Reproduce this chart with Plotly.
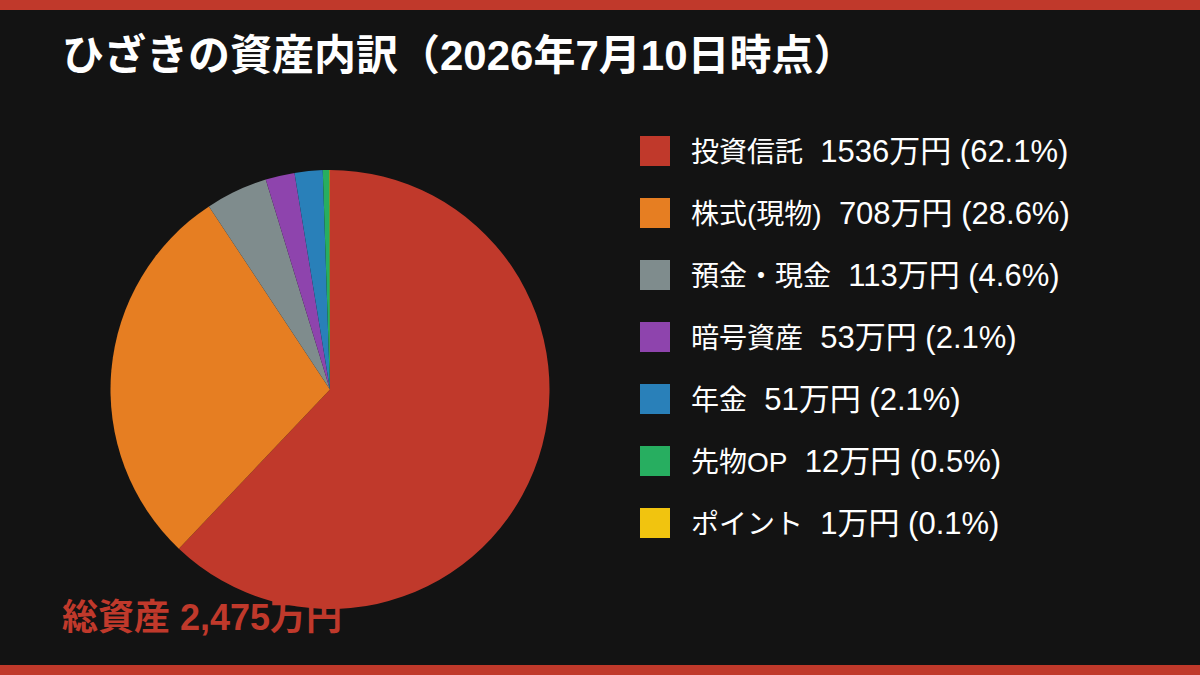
import plotly.graph_objects as go

categories = ["投資信託", "株式(現物)", "預金・現金", "暗号資産", "年金", "先物OP", "ポイント"]
values = [1536, 708, 113, 53, 51, 12, 1]
percents = [62.1, 28.6, 4.6, 2.1, 2.1, 0.5, 0.1]
colors = ["#c0392b", "#e67e22", "#7f8c8d", "#8e44ad", "#2980b9", "#27ae60", "#f1c40f"]
total_label = "総資産 2,475万円"
title_text = "ひざきの資産内訳（2026年7月10日時点）"

W, H = 1200, 675
BG = "#131313"
FONT = "Liberation Sans, Arial, Noto Sans CJK JP, sans-serif"

fig = go.Figure()
fig.add_trace(go.Pie(
    labels=categories,
    values=values,
    marker=dict(colors=colors, line=dict(width=0)),
    sort=False,
    direction="clockwise",
    rotation=0,
    textinfo="none",
    hoverinfo="label+value+percent",
    showlegend=False,
    domain=dict(x=[110 / W, 550 / W], y=[(H - 609) / H, (H - 170) / H]),
))

shapes = [
    dict(type="rect", xref="paper", yref="paper", x0=0, x1=1, y0=1 - 10 / H, y1=1,
         fillcolor="#c0392b", line=dict(width=0), layer="above"),
    dict(type="rect", xref="paper", yref="paper", x0=0, x1=1, y0=0, y1=10 / H,
         fillcolor="#c0392b", line=dict(width=0), layer="above"),
]
annotations = [
    dict(text="<b>" + title_text + "</b>", xref="paper", yref="paper",
         x=60 / W, y=1 - 56 / H, xanchor="left", yanchor="middle", showarrow=False,
         font=dict(family=FONT, size=42, color="#ffffff")),
    dict(text="<b>" + total_label + "</b>", xref="paper", yref="paper",
         x=60 / W, y=1 - 617 / H, xanchor="left", yanchor="middle", showarrow=False,
         font=dict(family=FONT, size=36, color="#c0392b")),
]

row0, step = 151, 62
for i, (cat, v, p, c) in enumerate(zip(categories, values, percents, colors)):
    yc = row0 + i * step
    shapes.append(dict(type="rect", xref="paper", yref="paper",
                       x0=640 / W, x1=670 / W, y0=1 - (yc + 15) / H, y1=1 - (yc - 15) / H,
                       fillcolor=c, line=dict(width=0)))
    txt = (f"<span style='font-size:28px'>{cat}</span>"
           f"<span style='font-size:31px'>  {v}万円 ({p}%)</span>")
    annotations.append(dict(text=txt, xref="paper", yref="paper",
                            x=689 / W, y=1 - yc / H, xanchor="left", yanchor="middle",
                            showarrow=False,
                            font=dict(family=FONT, size=28, color="#ffffff")))

fig.update_layout(
    width=W, height=H,
    margin=dict(l=0, r=0, t=0, b=0),
    paper_bgcolor=BG, plot_bgcolor=BG,
    shapes=shapes, annotations=annotations,
)

fig.write_html("out.html", config={"displayModeBar": False})
